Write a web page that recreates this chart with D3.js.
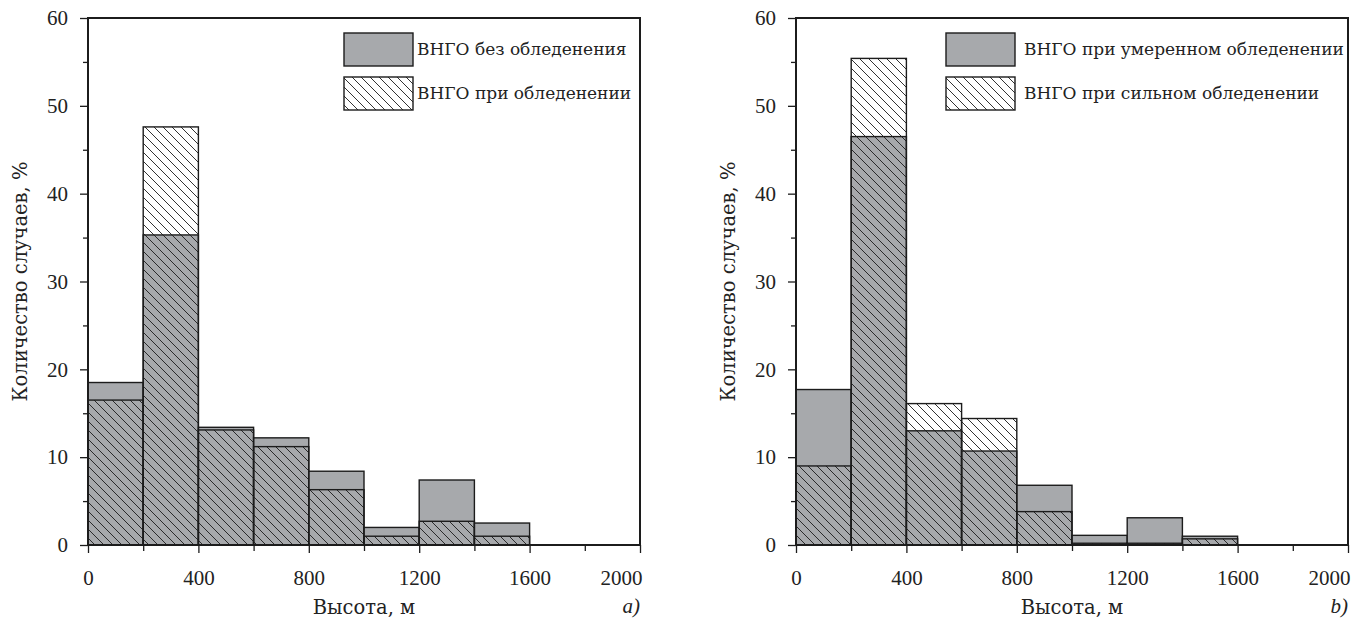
<!DOCTYPE html>
<html>
<head>
<meta charset="utf-8">
<script src="https://cdn.jsdelivr.net/npm/d3@7"></script>
<style>
    body { margin: 0; background: #fff; }
    svg { display: block; }
    text { font-family: "DejaVu Serif", "Liberation Serif", serif; fill: #222; }
</style>
</head>
<body>
<div id="chart"></div>
<script>
// Height bins, m (start of each 200 m bin)
const binStarts = [0, 200, 400, 600, 800, 1000, 1200, 1400, 1600, 1800];
const binWidth = 200;

// Panel a) values, %
const noIcing = [18.5, 35.3, 13.4, 12.2, 8.4, 2.0, 7.4, 2.5, 0, 0];
const withIcing = [16.5, 47.6, 13.1, 11.2, 6.3, 1.0, 2.7, 1.0, 0, 0];

// Panel b) values, %
const moderateIcing = [17.7, 46.5, 13.0, 10.7, 6.8, 1.1, 3.1, 1.0, 0, 0];
const severeIcing = [9.0, 55.4, 16.1, 14.4, 3.8, 0.2, 0.2, 0.7, 0, 0];

const xMajorTicks = [0, 400, 800, 1200, 1600, 2000];
const xMinorTicks = [200, 600, 1000, 1400, 1800];
const yMajorTicks = [0, 10, 20, 30, 40, 50, 60];
const yMinorTicks = [5, 15, 25, 35, 45, 55];

const legendA = ['ВНГО без обледенения', 'ВНГО при обледенении'];
const legendB = ['ВНГО при умеренном обледенении', 'ВНГО при сильном обледенении'];

const xTitle = 'Высота, м';
const yTitle = 'Количество случаев, %';

const W = 1367, H = 623;
const gray = '#a7a9ac';
const ink = '#1c1c1c';

const svg = d3.select('#chart').append('svg')
    .attr('width', W)
    .attr('height', H);

// diagonal hatch "\\\"
const defs = svg.append('defs');
const pat = defs.append('pattern')
    .attr('id', 'hatch')
    .attr('patternUnits', 'userSpaceOnUse')
    .attr('width', 9)
    .attr('height', 9);
pat.append('path')
    .attr('d', 'M0,0 L9,9 M-2,7 L2,11 M7,-2 L11,2')
    .attr('stroke', ink)
    .attr('stroke-width', 0.9);

function drawPanel(opts) {
    const x = d3.scaleLinear().domain([0, 2000]).range([opts.left, opts.right]);
    const y = d3.scaleLinear().domain([0, 60]).range([545, 18]);
    const g = svg.append('g');

    // gray bars first, hatched bars on top
    const rows = binStarts.map((b, i) => ({ start: b, base: opts.base[i], hatch: opts.hatch[i] }));

    g.selectAll('.gray')
        .data(rows.filter(d => d.base > 0))
        .enter()
        .append('rect')
        .attr('class', 'gray')
        .attr('x', d => x(d.start))
        .attr('width', d => x(d.start + binWidth) - x(d.start))
        .attr('y', d => y(d.base))
        .attr('height', d => y(0) - y(d.base))
        .attr('fill', gray)
        .attr('stroke', ink)
        .attr('stroke-width', 1.4);

    g.selectAll('.hatch')
        .data(rows.filter(d => d.hatch > 0))
        .enter()
        .append('rect')
        .attr('class', 'hatch')
        .attr('x', d => x(d.start))
        .attr('width', d => x(d.start + binWidth) - x(d.start))
        .attr('y', d => y(d.hatch))
        .attr('height', d => y(0) - y(d.hatch))
        .attr('fill', 'url(#hatch)')
        .attr('stroke', ink)
        .attr('stroke-width', 1.4);

    // axes
    const xAxis = g.append('g')
        .attr('transform', 'translate(0,' + y(0) + ')')
        .call(d3.axisBottom(x).tickValues(xMajorTicks).tickSize(8).tickPadding(17).tickFormat(d3.format('d')));
    g.append('g')
        .attr('transform', 'translate(0,' + y(0) + ')')
        .call(d3.axisBottom(x).tickValues(xMinorTicks).tickSize(6).tickFormat(''));
    g.append('g')
        .attr('transform', 'translate(' + x(0) + ',0)')
        .call(d3.axisLeft(y).tickValues(yMajorTicks).tickSize(8).tickPadding(12));
    g.append('g')
        .attr('transform', 'translate(' + x(0) + ',0)')
        .call(d3.axisLeft(y).tickValues(yMinorTicks).tickSize(5).tickFormat(''));

    g.selectAll('.domain').remove();
    g.selectAll('.tick line').attr('stroke', ink).attr('stroke-width', 1.3);
    g.selectAll('.tick text')
        .style('font-family', '"Liberation Serif", serif')
        .style('font-size', '21px')
        .attr('fill', '#222');
    // last x label sits left of its tick
    xAxis.selectAll('.tick text').filter(d => d === 2000)
        .attr('text-anchor', 'end')
        .attr('x', 2);

    // frame
    g.append('rect')
        .attr('x', x(0))
        .attr('y', y(60))
        .attr('width', x(2000) - x(0))
        .attr('height', y(0) - y(60))
        .attr('fill', 'none')
        .attr('stroke', ink)
        .attr('stroke-width', 2);

    // titles
    g.append('text')
        .attr('x', (x(0) + x(2000)) / 2)
        .attr('y', 614)
        .attr('text-anchor', 'middle')
        .style('font-size', '19.5px')
        .text(xTitle);
    g.append('text')
        .attr('transform', 'translate(' + (x(0) - 61) + ',' + ((y(0) + y(60)) / 2) + ') rotate(-90)')
        .attr('text-anchor', 'middle')
        .style('font-size', '19.5px')
        .text(yTitle);
    g.append('text')
        .attr('x', x(2000))
        .attr('y', 613)
        .attr('text-anchor', 'end')
        .style('font-family', '"Liberation Serif", serif')
        .style('font-size', '21px')
        .style('font-style', 'italic')
        .text(opts.tag);

    // legend
    const lg = g.append('g').attr('transform', 'translate(' + opts.legendX + ',33)');
    lg.append('rect')
        .attr('width', 69).attr('height', 33)
        .attr('fill', gray).attr('stroke', ink).attr('stroke-width', 1.4);
    lg.append('rect')
        .attr('y', 44).attr('width', 69).attr('height', 33)
        .attr('fill', 'url(#hatch)').attr('stroke', ink).attr('stroke-width', 1.4);
    opts.legend.forEach((t, i) => {
        lg.append('text')
            .attr('x', opts.legendTextDx)
            .attr('y', 16.5 + i * 44)
            .attr('dy', '0.35em')
            .style('font-size', '17px')
            .text(t);
    });
}

drawPanel({ left: 88, right: 640, base: noIcing, hatch: withIcing, legend: legendA, legendX: 344, legendTextDx: 73, tag: 'a)' });
drawPanel({ left: 796, right: 1348, base: moderateIcing, hatch: severeIcing, legend: legendB, legendX: 946, legendTextDx: 78, tag: 'b)' });
</script>
</body>
</html>
